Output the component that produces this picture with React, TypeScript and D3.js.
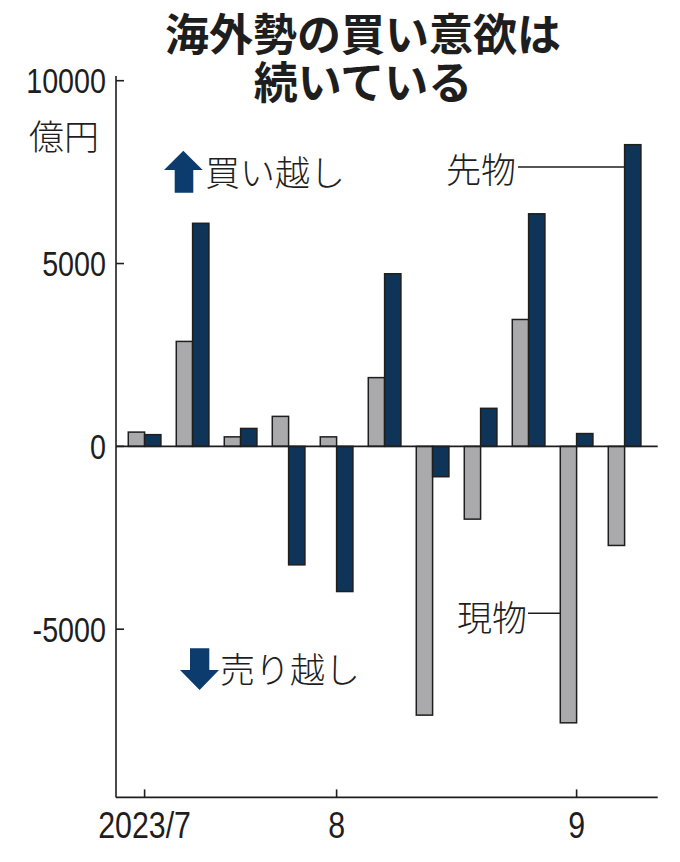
import React from "react";
import * as d3 from "d3";

const weeks = ["7/1w", "7/2w", "7/3w", "7/4w", "8/1w", "8/2w", "8/3w", "8/4w", "9/1w", "9/2w", "9/3w"];
const spot = [390, 2870, 260, 820, 260, 1880, -7350, -1990, 3470, -7560, -2710];
const futures = [320, 6100, 490, -3240, -3970, 4720, -830, 1040, 6360, 350, 8250];
const yTicks = [10000, 5000, 0, -5000];
const xTickLabels = [
  { week: "7/1w", label: "2023/7" },
  { week: "8/1w", label: "8" },
  { week: "9/2w", label: "9" },
];
const titleLines = ["海外勢の買い意欲は", "続いている"];

const W = 680;
const H = 862;
const GRAY = "#aaaaac";
const NAVY = "#0e3557";
const ARROW = "#0c3c6e";
const INK = "#1e1e1e";
const NUM_FONT = "'Liberation Sans', Arial, sans-serif";
const JP_FONT = "'Noto Sans CJK JP', 'Noto Sans', sans-serif";
const SQUEEZE = 0.82;

export default function App() {
  const plotLeft = 116;
  const plotRight = 657.7;
  const y = d3.scaleLinear().domain([-9600, 10000]).range([797.4, 80.7]);
  const x = d3
    .scaleBand<string>()
    .domain(weeks)
    .range([120.6, 648.6])
    .paddingInner(0.32)
    .paddingOuter(0.16);
  const bw = x.bandwidth() / 2;
  const y0 = y(0);
  const axisBottom = y(-9600);

  const lastWeek = weeks[weeks.length - 1];
  const futLeaderX = (x(lastWeek) as number) + bw;
  const spotLeaderX = x(weeks[9]) as number;

  return (
    <svg
      width={W}
      height={H}
      viewBox={`0 0 ${W} ${H}`}
      style={{ position: "absolute", left: 0, top: 0, background: "#fff" }}
    >
      <rect x={0} y={0} width={W} height={H} fill="#fff" />
      {/* Title */}
      {titleLines.map((t, i) => (
        <text
          key={t}
          x={363}
          y={51 + i * 48}
          textAnchor="middle"
          fontFamily={JP_FONT}
          fontWeight={700}
          fontSize={44}
          fill={INK}
        >
          {t}
        </text>
      ))}

      {/* Bars */}
      {weeks.map((w, i) => {
        const bx = x(w) as number;
        const s = spot[i];
        const f = futures[i];
        return (
          <g key={w}>
            <rect
              x={bx}
              y={Math.min(y(s), y0)}
              width={bw}
              height={Math.abs(y(s) - y0)}
              fill={GRAY}
              stroke={INK}
              strokeWidth={1.5}
            />
            <rect
              x={bx + bw}
              y={Math.min(y(f), y0)}
              width={bw}
              height={Math.abs(y(f) - y0)}
              fill={NAVY}
              stroke={INK}
              strokeWidth={1.5}
            />
          </g>
        );
      })}

      {/* Zero line */}
      <line x1={plotLeft} x2={plotRight} y1={y0} y2={y0} stroke={INK} strokeWidth={1.6} />

      {/* Y axis */}
      <line x1={plotLeft} x2={plotLeft} y1={76} y2={axisBottom} stroke={INK} strokeWidth={1.6} />
      {yTicks.map((t) => (
        <g key={t}>
          <line x1={plotLeft} x2={plotLeft + 8} y1={y(t)} y2={y(t)} stroke={INK} strokeWidth={1.6} />
          <text
            transform={`translate(106,${y(t) + 12.5}) scale(${SQUEEZE},1)`}
            textAnchor="end"
            fontFamily={NUM_FONT}
            fontSize={35}
            fill={INK}
          >
            {t}
          </text>
        </g>
      ))}
      <text x={29} y={150} fontFamily={JP_FONT} fontWeight={300} fontSize={35} fill={INK}>
        億円
      </text>

      {/* X axis */}
      <line x1={plotLeft} x2={plotRight} y1={axisBottom} y2={axisBottom} stroke={INK} strokeWidth={1.6} />
      {xTickLabels.map((d) => {
        const cx = (x(d.week) as number) + x.bandwidth() / 2;
        return (
          <g key={d.label}>
            <line x1={cx} x2={cx} y1={axisBottom} y2={axisBottom - 8} stroke={INK} strokeWidth={1.6} />
            <text
              transform={`translate(${cx},838) scale(${SQUEEZE},1)`}
              textAnchor="middle"
              fontFamily={NUM_FONT}
              fontSize={37}
              fill={INK}
            >
              {d.label}
            </text>
          </g>
        );
      })}

      {/* Buy / sell annotations */}
      <path
        d="M183.3,150.7 L202.7,170 L193.3,170 L193.3,192.7 L174.7,192.7 L174.7,170 L164,170 Z"
        fill={ARROW}
      />
      <text x={205} y={186} fontFamily={JP_FONT} fontWeight={300} fontSize={35} fill={INK}>
        買い越し
      </text>
      <path
        d="M190,648.3 L209.3,648.3 L209.3,670 L219,670 L199.6,690 L180,670 L190,670 Z"
        fill={ARROW}
      />
      <text x={220} y={683} fontFamily={JP_FONT} fontWeight={300} fontSize={35} fill={INK}>
        売り越し
      </text>

      {/* Series labels */}
      <text x={516} y={183} textAnchor="end" fontFamily={JP_FONT} fontWeight={300} fontSize={35} fill={INK}>
        先物
      </text>
      <line x1={518} x2={futLeaderX} y1={167} y2={167} stroke={INK} strokeWidth={1.4} />
      <text x={527} y={631} textAnchor="end" fontFamily={JP_FONT} fontWeight={300} fontSize={35} fill={INK}>
        現物
      </text>
      <line x1={528} x2={spotLeaderX} y1={613.3} y2={613.3} stroke={INK} strokeWidth={1.4} />
    </svg>
  );
}
